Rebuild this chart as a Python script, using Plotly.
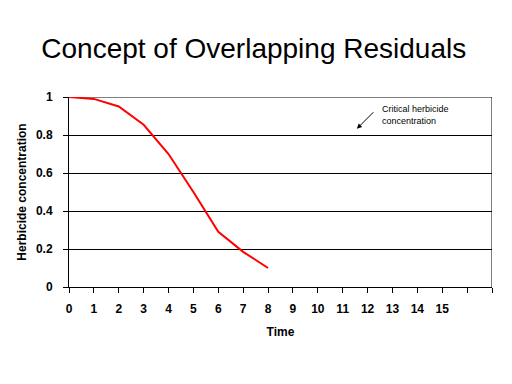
import plotly.graph_objects as go

time_points = [0, 1, 2, 3, 4, 5, 6, 7, 8]
concentration = [1.0, 0.99, 0.95, 0.854, 0.70, 0.50, 0.29, 0.185, 0.10]
x_tick_vals = list(range(0, 18))
x_tick_text = [str(i) for i in range(0, 16)] + ["", ""]
y_tick_vals = [0, 0.2, 0.4, 0.6, 0.8, 1.0]
y_tick_text = ["0", "0.2", "0.4", "0.6", "0.8", "1"]

FONT = "Liberation Sans, Arial, sans-serif"

fig = go.Figure()
fig.add_trace(go.Scatter(x=time_points, y=concentration, mode="lines",
                         line=dict(color="#ff0000", width=2), hoverinfo="skip"))

fig.update_layout(
    width=512, height=384,
    margin=dict(l=61, r=28, t=89, b=105),
    paper_bgcolor="white", plot_bgcolor="white",
    showlegend=False,
    title=dict(text="Concept of Overlapping Residuals", x=0.48, xanchor="center",
               y=1 - 40 / 384, yanchor="middle",
               font=dict(family=FONT, size=28, color="black")),
    xaxis=dict(range=[0, 17], tickmode="array", tickvals=x_tick_vals, ticktext=x_tick_text,
               automargin=False,
               showgrid=False, zeroline=False, showline=True, linecolor="black", linewidth=1,
               ticks="outside", ticklen=5, tickcolor="black", tickwidth=1,
               ticklabelstandoff=6,
               tickfont=dict(family=FONT, size=12, color="black", weight="bold"),
               title=dict(text="Time", standoff=12,
                          font=dict(family=FONT, size=12, color="black", weight="bold"))),
    yaxis=dict(range=[0, 1], tickmode="array", tickvals=y_tick_vals, ticktext=y_tick_text,
               automargin=False,
               showgrid=True, gridcolor="black", gridwidth=1, zeroline=False,
               showline=True, linecolor="black", linewidth=1,
               ticks="outside", ticklen=5, tickcolor="black", tickwidth=1,
               ticklabelstandoff=8,
               tickfont=dict(family=FONT, size=12, color="black", weight="bold"),
               title=dict(text="Herbicide concentration", standoff=6,
                          font=dict(family=FONT, size=12, color="black", weight="bold"))),
)

fig.add_shape(type="line", xref="x", yref="y", x0=17, x1=17, y0=0, y1=1,
              line=dict(color="black", width=1))
fig.add_shape(type="line", xref="x", yref="y", x0=0, x1=17, y0=1, y1=1,
              line=dict(color="black", width=1), layer="below")

fig.add_annotation(x=12.5, y=0.905, xref="x", yref="y", text="Critical herbicide<br>concentration",
                   showarrow=False, xanchor="left", yanchor="middle", align="left",
                   font=dict(family=FONT, size=9, color="black"))
fig.add_annotation(x=11.57, y=0.833, xref="x", yref="y", text="", showarrow=True,
                   ax=18, ay=-18, arrowhead=2, arrowsize=1, arrowwidth=1, arrowcolor="black")

fig.write_html("out.html")
